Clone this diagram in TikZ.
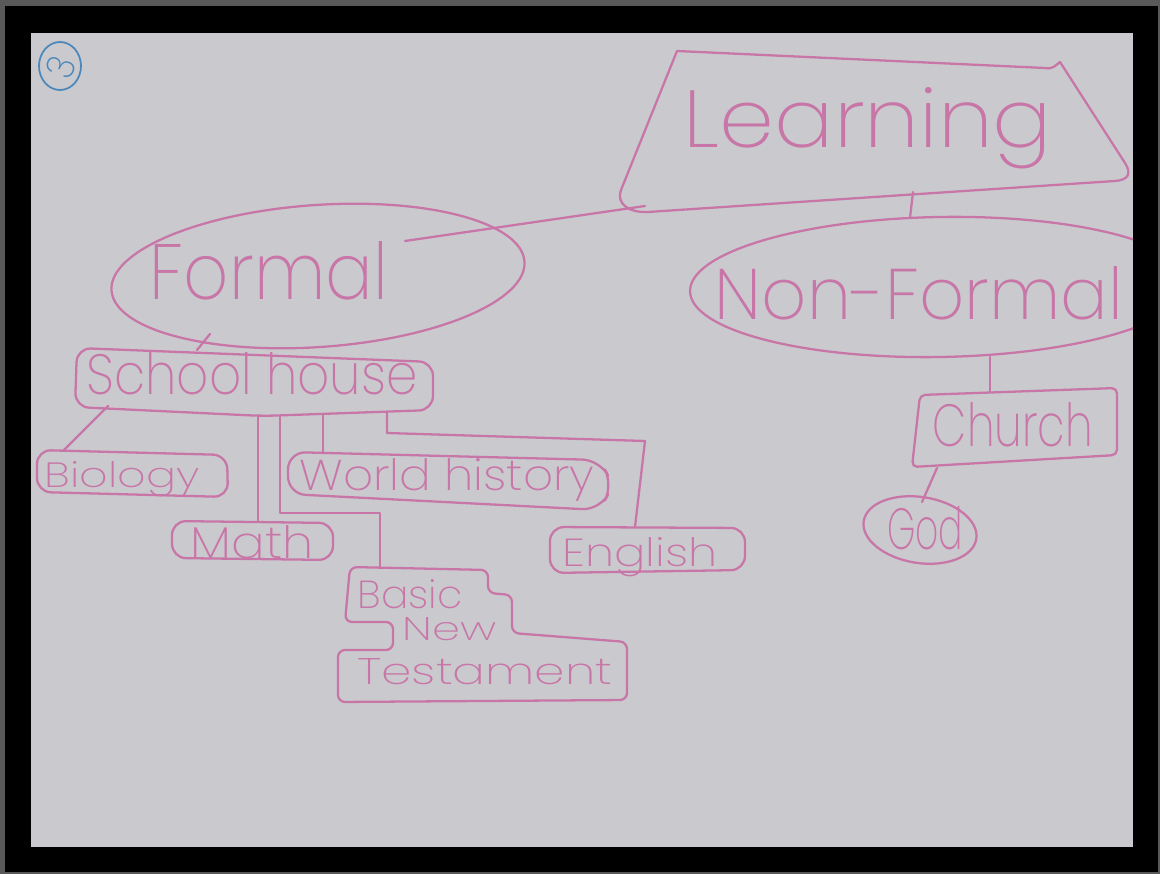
\documentclass[tikz,border=0pt]{standalone}
\usepackage{fontspec}
\usepackage{graphicx}
\IfFontExistsTF{Poppins ExtraLight}{\newfontfamily\hand{Poppins ExtraLight}}{%
 \IfFontExistsTF{Poppins Light}{\newfontfamily\hand{Poppins Light}}{%
  \IfFontExistsTF{Fira Sans Light}{\newfontfamily\hand{Fira Sans Light}}{%
   \IfFontExistsTF{Lato Light}{\newfontfamily\hand{Lato Light}}{%
    \newfontfamily\hand{Poppins}}}}}
\newlength\pxu
\setlength\pxu{0.02cm}
\newcommand{\hw}[3]{\resizebox{#1\pxu}{#2\pxu}{\hand #3}}
\definecolor{pencil}{RGB}{200,118,168}
\definecolor{penciltext}{RGB}{200,118,168}
\definecolor{paper}{RGB}{202,202,206}
\definecolor{inkblue}{RGB}{75,135,185}
\begin{document}
\begin{tikzpicture}[x=0.02cm,y=-0.02cm,line cap=round,line join=round,
  pen/.style={draw=pencil,line width=1.3pt},
  link/.style={draw=pencil,line width=1.3pt},
  lbl/.style={text=penciltext,inner sep=0pt,anchor=base}]
\useasboundingbox (0,0) rectangle (1160,874);
\fill[black!65] (0,0) rectangle (1160,874);
\fill[black] (5,6) rectangle (1158,872);
\fill[paper] (31,33) rectangle (1133,847);

% page number
\draw[inkblue,line width=1pt] (60,66) ellipse [x radius=21,y radius=24];
\node[text=inkblue,inner sep=0pt,rotate=70] (pagenum) at (61,67) {\hw{20}{28}{3}};

\begin{scope}
\clip (31,33) rectangle (1133,847);
% Learning
\draw[pen] (677,51) -- (1045,68) .. controls (1053,70) and (1057,64) .. (1060,62)
  -- (1125,163) .. controls (1132,174) and (1128,180) .. (1115,181)
  -- (648,212) .. controls (628,213) and (616,203) .. (621,190) -- cycle;
\node[lbl] (learning) at (868,148) {\hw{368}{60}{Learning}};
% Formal
\draw[pen,rotate around={4:(318,276)}] (318,276) ellipse [x radius=207,y radius=71];
\node[lbl] (formal) at (269,300) {\hw{238}{58}{Formal}};
% Non-Formal
\draw[pen,rotate around={1:(940,287)}] (940,287) ellipse [x radius=250,y radius=70];
\node[lbl] (nonformal) at (919,320) {\hw{408}{53}{Non-Formal}};
\end{scope}

% School house
\draw[pen,rounded corners=8] (77,348) -- (433,362) -- (433,410) -- (263,416) -- (75,407) -- cycle;
\node[lbl] (school) at (252,395) {\hw{331}{42}{School house}};
% Biology
\draw[pen,rounded corners=8] (37,450) -- (227,455) -- (228,497) -- (37,492) -- cycle;
\node[lbl] (biology) at (122,488) {\hw{155}{26}{Biology}};
% World history
\draw[pen,rounded corners=10] (288,452) -- (600,460) -- (613,485) -- (600,510) -- (288,494) -- cycle;
\node[lbl] (world) at (447,491) {\hw{295}{32}{World history}};
% Math
\draw[pen,rounded corners=8] (172,521) -- (333,523) -- (333,560) -- (172,558) -- cycle;
\node[lbl] (math) at (252,559) {\hw{123}{33}{Math}};
% English
\draw[pen,rounded corners=8] (550,527) -- (745,528) -- (745,570) -- (550,573) -- cycle;
\node[lbl] (english) at (640,567) {\hw{155}{29}{English}};
% Basic New Testament
\draw[pen,rounded corners=4] (350,567) -- (488,570) -- (488,593) -- (512,595) -- (512,633)
  -- (627,642) -- (627,700) -- (338,702) -- (338,650) -- (393,650) -- (393,622) -- (345,622) -- cycle;
\node[lbl] (basic) at (410,609) {\hw{105}{29}{Basic}};
\node[lbl] (new) at (450,641) {\hw{94}{23}{New}};
\node[lbl] (testament) at (485,684) {\hw{255}{26}{Testament}};
% Church
\draw[pen,rounded corners=3] (920,395) -- (1117,388) -- (1117,455) -- (912,467) -- cycle;
\node[lbl] (church) at (1013,447) {\hw{160}{44}{Church}};
% God
\draw[pen,rotate around={-9:(920,530)}] (920,530) ellipse [x radius=57,y radius=33];
\node[lbl] (god) at (925,550) {\hw{76}{43}{God}};

% connector end points
\coordinate (learnA) at (645,206);
\coordinate (formalA) at (405,241);
\coordinate (learnB) at (913,192);
\coordinate (nonformalA) at (910,218);
\coordinate (formalB) at (210,334);
\coordinate (schoolA) at (197,350);
\coordinate (schoolB) at (108,406);
\coordinate (biologyA) at (63,451);
\coordinate (schoolC) at (258,416);
\coordinate (mathA) at (258,521);
\coordinate (schoolD) at (280,417);
\coordinate (basicA) at (380,568);
\coordinate (schoolE) at (323,415);
\coordinate (worldA) at (323,453);
\coordinate (schoolF) at (387,412);
\coordinate (englishA) at (635,527);
\coordinate (nonformalB) at (990,357);
\coordinate (churchA) at (990,392);
\coordinate (churchB) at (937,468);
\coordinate (godA) at (922,502);

\draw[link] (learnA) -- (formalA);
\draw[link] (learnB) -- (nonformalA);
\draw[link] (formalB) -- (schoolA);
\draw[link] (schoolB) -- (biologyA);
\draw[link] (schoolC) -- (mathA);
\draw[link] (schoolD) |- (380,513) -- (basicA);
\draw[link] (schoolE) -- (worldA);
\draw[link] (schoolF) -- (387,433) -- (645,441) -- (englishA);
\draw[link] (nonformalB) -- (churchA);
\draw[link] (churchB) -- (godA);
\end{tikzpicture}
\end{document}
